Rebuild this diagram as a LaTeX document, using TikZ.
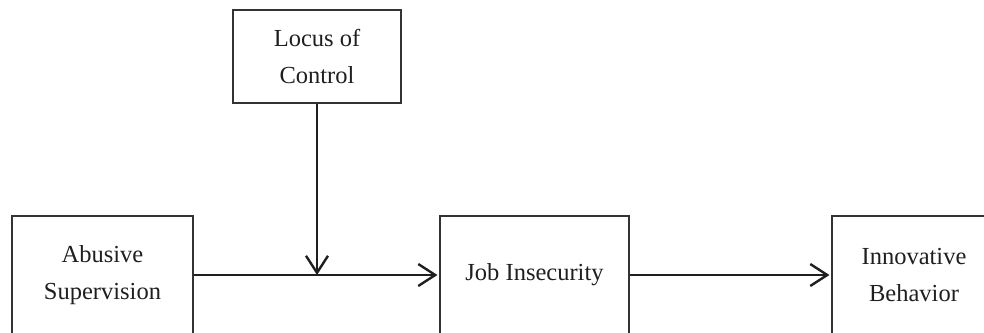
\documentclass[tikz,border=0pt]{standalone}
\usepackage{fontspec}
\setmainfont{Liberation Serif}
\usetikzlibrary{arrows.meta}
\begin{document}
\begin{tikzpicture}[x=1pt,y=-1pt,
  box/.style={draw=black!80, line width=1.1pt, align=center, inner sep=0pt,
    text=black!88, font=\fontsize{24.5}{37}\selectfont},
  arr/.style={draw=black!88, line width=2.4pt,
    -{Straight Barb[length=17pt,width=22pt,line width=2.4pt]}}]
\useasboundingbox (0,0) rectangle (984,332);
\clip (0,0) rectangle (984,332);
\node[box, minimum width=168pt, minimum height=93pt] (loc) at (317,56.5) {Locus of\\Control};
\node[box, minimum width=181pt, minimum height=118pt] (abs) at (102.5,275) {Abusive\\Supervision};
\node[box, minimum width=189pt, minimum height=118pt] (job) at (534.5,275) {Job Insecurity};
\node[box, minimum width=164pt, minimum height=118pt] (inn) at (914,275) {Innovative\\Behavior};
\coordinate (m) at (loc.south |- abs.east);
\draw[arr, shorten >=2pt] (abs.east) -- (job.west);
\draw[arr] (loc.south) -- (m);
\draw[arr, shorten >=2pt] (job.east) -- (inn.west);
\end{tikzpicture}
\end{document}
